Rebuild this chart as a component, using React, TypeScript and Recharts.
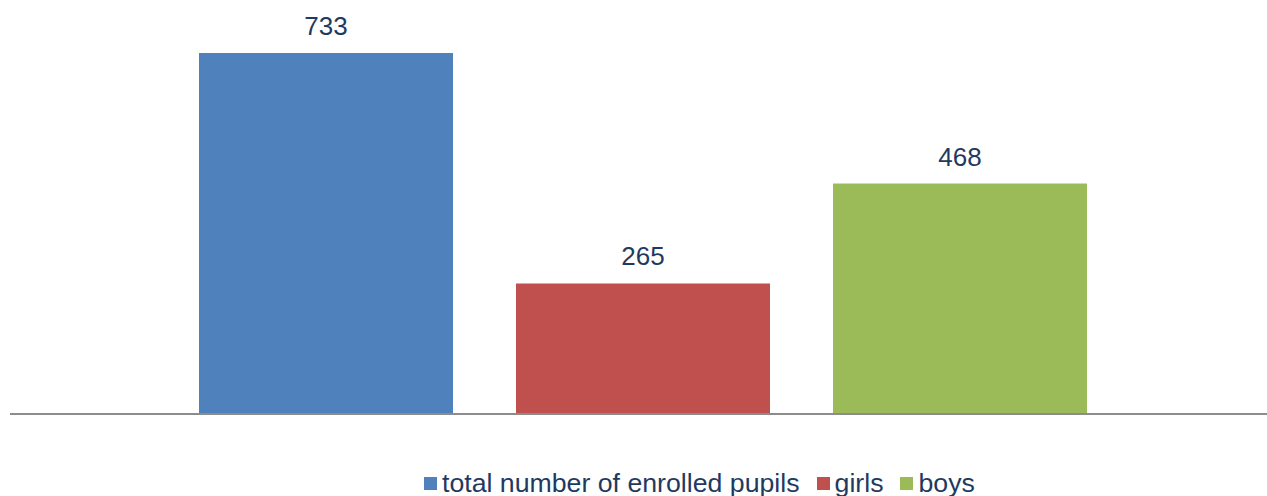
import React from 'react';
import { BarChart, Bar, XAxis, YAxis, Legend, LabelList } from 'recharts';

const seriesKeys = ['total', 'girls', 'boys'];
const seriesNames = ['total number of enrolled pupils', 'girls', 'boys'];
const seriesColors = ['#4F81BD', '#C0504D', '#9BBB59'];
const seriesValues = [733, 265, 468];

const data = [
  seriesKeys.reduce(
    (row, key, i) => ({ ...row, [key]: seriesValues[i] }),
    { name: '' } as Record<string, string | number>
  ),
];

const textColor = '#1F3A60';
const font = '"Liberation Sans", Arial, sans-serif';

function renderLegend(props: any) {
  // keep the series order, not the alphabetical one
  const payload = [...props.payload].sort(
    (a: any, b: any) => seriesNames.indexOf(a.value) - seriesNames.indexOf(b.value)
  );
  return (
    <div style={{ display: 'flex', alignItems: 'center', height: 30, fontFamily: font, fontSize: 26.7, color: textColor, whiteSpace: 'nowrap' }}>
      {payload.map((entry: any, i: number) => (
        <div key={i} style={{ display: 'flex', alignItems: 'center', marginRight: 17 }}>
          <span style={{ display: 'inline-block', width: 13, height: 13, background: entry.color, marginRight: 5 }} />
          <span>{entry.value}</span>
        </div>
      ))}
    </div>
  );
}

export default function App() {
  return (
    <div style={{ position: 'absolute', left: 0, top: 0, width: 1267, height: 496, background: '#fff' }}>
      <BarChart
        width={1267}
        height={496}
        data={data}
        margin={{ top: 20, right: -9, left: 10, bottom: 51 }}
        barGap={63}
      >
        <XAxis
          dataKey="name"
          tick={false}
          tickLine={false}
          height={1}
          axisLine={{ stroke: '#8C8C8C', strokeWidth: 2 }}
        />
        <YAxis hide domain={[0, 800]} />
        <Legend
          verticalAlign="bottom"
          content={renderLegend}
          wrapperStyle={{ left: 424, top: 468, width: 'auto' }}
        />
        {seriesKeys.map((key, i) => (
          <Bar
            key={key}
            dataKey={key}
            name={seriesNames[i]}
            fill={seriesColors[i]}
            barSize={254}
            isAnimationActive={false}
          >
            <LabelList
              dataKey={key}
              position="top"
              offset={18}
              fill={textColor}
              fontSize={26}
              fontFamily={font}
            />
          </Bar>
        ))}
      </BarChart>
    </div>
  );
}
